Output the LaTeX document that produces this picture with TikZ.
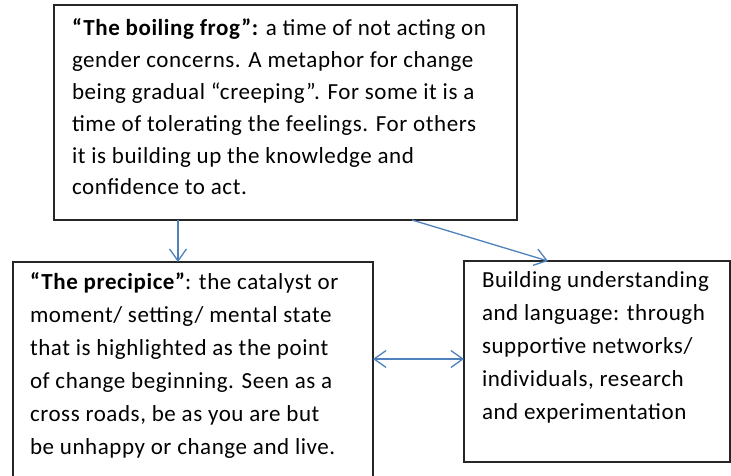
\documentclass[tikz,border=0pt]{standalone}
\usepackage{fontspec}
\setmainfont[LetterSpace=2.5]{Carlito}
\usetikzlibrary{arrows.meta}
\definecolor{arrowblue}{HTML}{4F81BD}
\newcommand\boxtext[5]{\parbox[c][#1][t]{#2}{\fontsize{23pt}{#3}\selectfont\raggedright\rule{0pt}{#4}#5}}
\begin{document}
\begin{tikzpicture}[x=1pt,y=-1pt,
  box/.style={draw=black!85, line width=1.8pt, inner xsep=#1, inner ysep=0pt,
    outer sep=0pt, anchor=north west, fill=white},
  link/.style={draw=arrowblue, line width=1.3pt,
    -{Straight Barb[length=12pt,width=17pt,line width=1.3pt]}},
  dlink/.style={draw=arrowblue, line width=1.3pt,
    {Straight Barb[length=12pt,width=17pt,line width=1.3pt]}-{Straight Barb[length=12pt,width=17pt,line width=1.3pt]}}
]
\useasboundingbox (0,0) rectangle (731,476);
\fill[white] (0,0) rectangle (731,476);

\node[box=18pt] (top) at (54,5) {\boxtext{215pt}{427pt}{31.8pt}{31pt}{%
{\bfseries “The boiling frog”:} a time of not acting on\\
gender concerns. A metaphor for change\\
being gradual “creeping”. For some it is a\\
time of tolerating the feelings. For others\\
it is building up the knowledge and\\
confidence to act.}};

\node[box=17.3pt] (prec) at (12.7,262) {\boxtext{238pt}{325.7pt}{33pt}{27pt}{%
{\bfseries “The precipice”}: the catalyst or\\
moment/ setting/ mental state\\
that is highlighted as the point\\
of change beginning. Seen as a\\
cross roads, be as you are but\\
be unhappy or change and live.}};

\node[box=18pt] (build) at (464,261) {\boxtext{201pt}{230pt}{33pt}{26pt}{%
Building understanding\\
and language: through\\
supportive networks/\\
individuals, research\\
and experimentation}};

\draw[link] ([xshift=124pt]top.south west) -- ([xshift=165.3pt]prec.north west);
\draw[link] ([xshift=358pt]top.south west) -- ([xshift=84pt]build.north west);
\draw[dlink] ([yshift=-97pt]prec.north east) -- ([yshift=-98pt]build.north west);
\end{tikzpicture}
\end{document}
